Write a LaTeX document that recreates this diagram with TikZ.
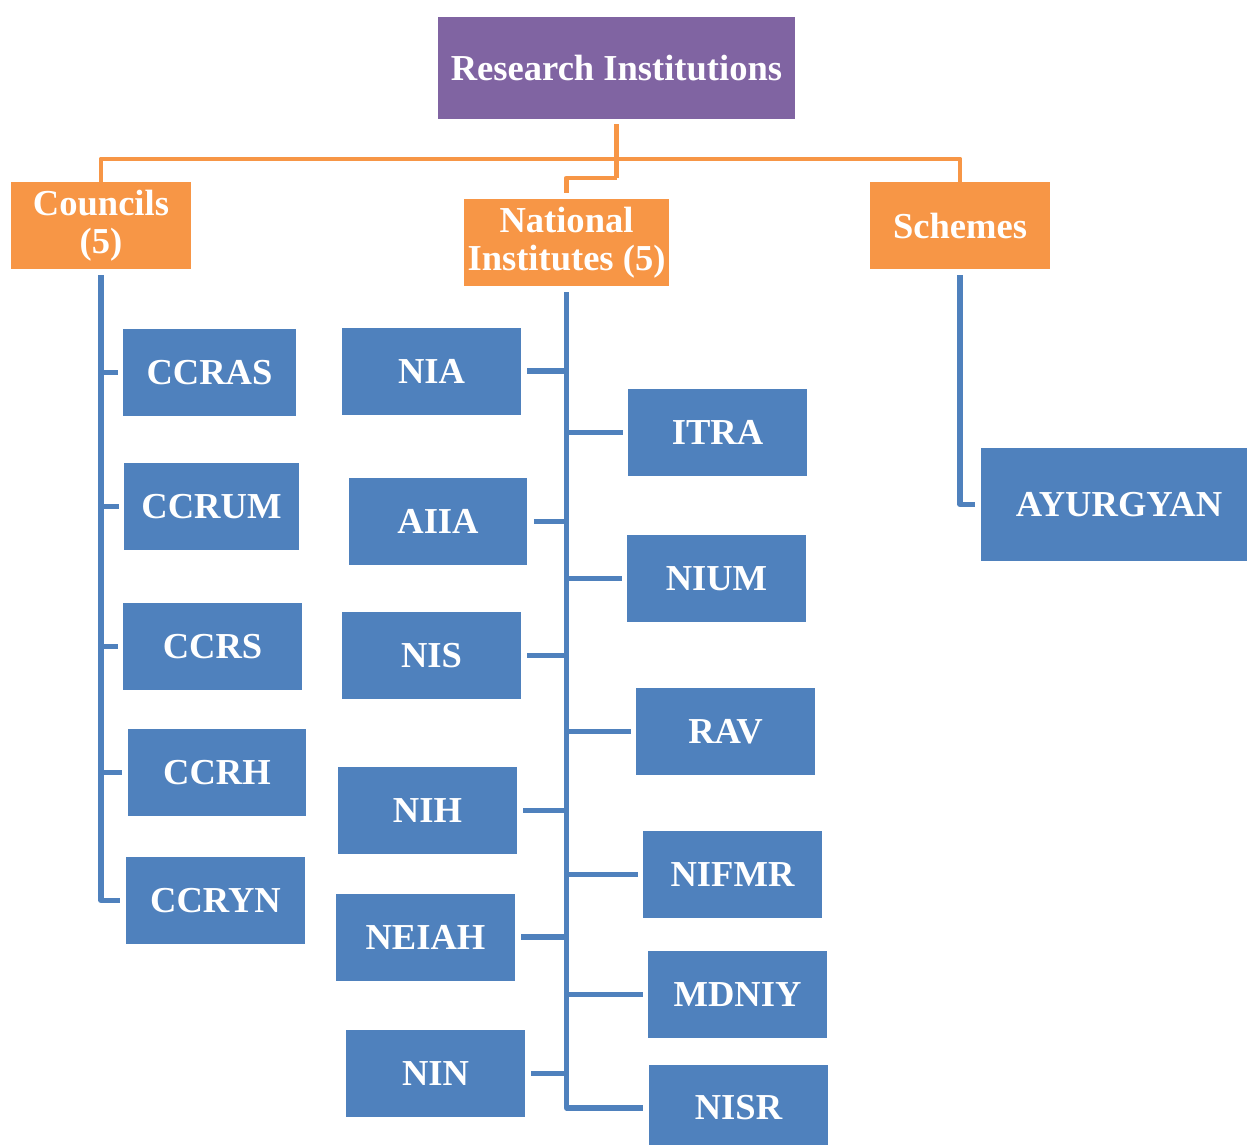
\documentclass[tikz,border=0pt]{standalone}
\usepackage{fontspec}
\setmainfont{Liberation Serif}
\usepackage{xcolor}
\definecolor{cPurple}{HTML}{8064A2}
\definecolor{cOrange}{HTML}{F79646}
\definecolor{cBlue}{HTML}{4F81BD}
\usepackage{tikz}
\usetikzlibrary{positioning,calc}
\tikzset{
  node-box/.style={fill=cBlue,text=white,inner sep=0pt,
    minimum width=3.58cm,minimum height=1.74cm,align=center,
    font=\bfseries\fontsize{20.8}{21.5}\selectfont},
  node-root/.style={node-box,fill=cPurple,minimum width=7.14cm,minimum height=2.04cm},
  node-group/.style={node-box,fill=cOrange,minimum width=3.6cm},
  link-blue/.style={draw=cBlue,line width=3pt,line join=round},
  link-orange/.style={draw=cOrange,line width=2.8pt,line join=round},
}
\begin{document}
\begin{tikzpicture}[x=0.02cm,y=-0.02cm]
  \useasboundingbox (0,0) rectangle (1247,1144);
  % top level
  \node[node-root] (ri) at (616.5,68) {Research Institutions};
  \node[node-group] (councils) at (101,225.5) {Councils\\(5)};
  \node[node-group,minimum width=4.1cm] (natinst) at (566.5,242.5) {National\\Institutes (5)};
  \node[node-group] (schemes) at (960,225.5) {Schemes};
  % councils
  \node[node-box,minimum width=3.46cm] (ccras) at (209.5,372.5) {CCRAS};
  \node[node-box,minimum width=3.5cm] (ccrum) at (211.5,506.5) {CCRUM};
  \node[node-box] (ccrs)  at (212.5,646.5) {CCRS};
  \node[node-box] (ccrh)  at (217,772.5) {CCRH};
  \node[node-box] (ccryn) at (215.5,900.5) {CCRYN};
  % national institutes, left column
  \node[node-box] (nia)   at (431.5,371) {NIA};
  \node[node-box] (aiia)  at (438,521.5) {AIIA};
  \node[node-box] (nis)   at (431.5,655.5) {NIS};
  \node[node-box] (nih)   at (427.5,810.5) {NIH};
  \node[node-box] (neiah) at (425.5,937) {NEIAH};
  \node[node-box] (nin)   at (435.5,1073.5) {NIN};
  % national institutes, right column
  \node[node-box] (itra)  at (717.5,432.5) {ITRA};
  \node[node-box] (nium)  at (716.5,578.5) {NIUM};
  \node[node-box] (rav)   at (725.5,731.5) {RAV};
  \node[node-box] (nifmr) at (732.5,874.5) {NIFMR};
  \node[node-box] (mdniy) at (737.5,994.5) {MDNIY};
  \node[node-box] (nisr)  at (738.5,1108) {NISR};
  % schemes
  \node[node-box,minimum width=5.52cm,minimum height=2.26cm] (ayurgyan) at (1119,504.5) {AYURGYAN};

  % orange bus
  \coordinate (bus) at (616.5,159);
  \coordinate (jog) at (616.5,178);
  \draw[link-orange,shorten <=0.1cm] (ri.south) -- (jog);
  \draw[link-orange] (councils.north) |- (bus) -| (schemes.north);
  \draw[link-orange,shorten >=0.12cm] (jog) -| (natinst.north);

  % councils trunk
  \draw[link-blue,shorten <=0.12cm,shorten >=0.12cm] (councils.south) |- (ccryn.west);
  \foreach \n in {ccras,ccrum,ccrs,ccrh}
    \draw[link-blue,shorten >=0.1cm] (councils.south |- \n.west) -- (\n.west);

  % national institutes trunk
  \draw[link-blue,shorten <=0.12cm,shorten >=0.12cm] (natinst.south) |- (nisr.west);
  \foreach \n in {nia,aiia,nis,nih,neiah,nin}
    \draw[link-blue,shorten <=0.12cm] (\n.east) -- (natinst.south |- \n.east);
  \foreach \n in {itra,nium,rav,nifmr,mdniy}
    \draw[link-blue,shorten >=0.1cm] (natinst.south |- \n.west) -- (\n.west);

  % schemes trunk
  \draw[link-blue,shorten <=0.12cm,shorten >=0.12cm] (schemes.south) |- (ayurgyan.west);
\end{tikzpicture}
\end{document}
